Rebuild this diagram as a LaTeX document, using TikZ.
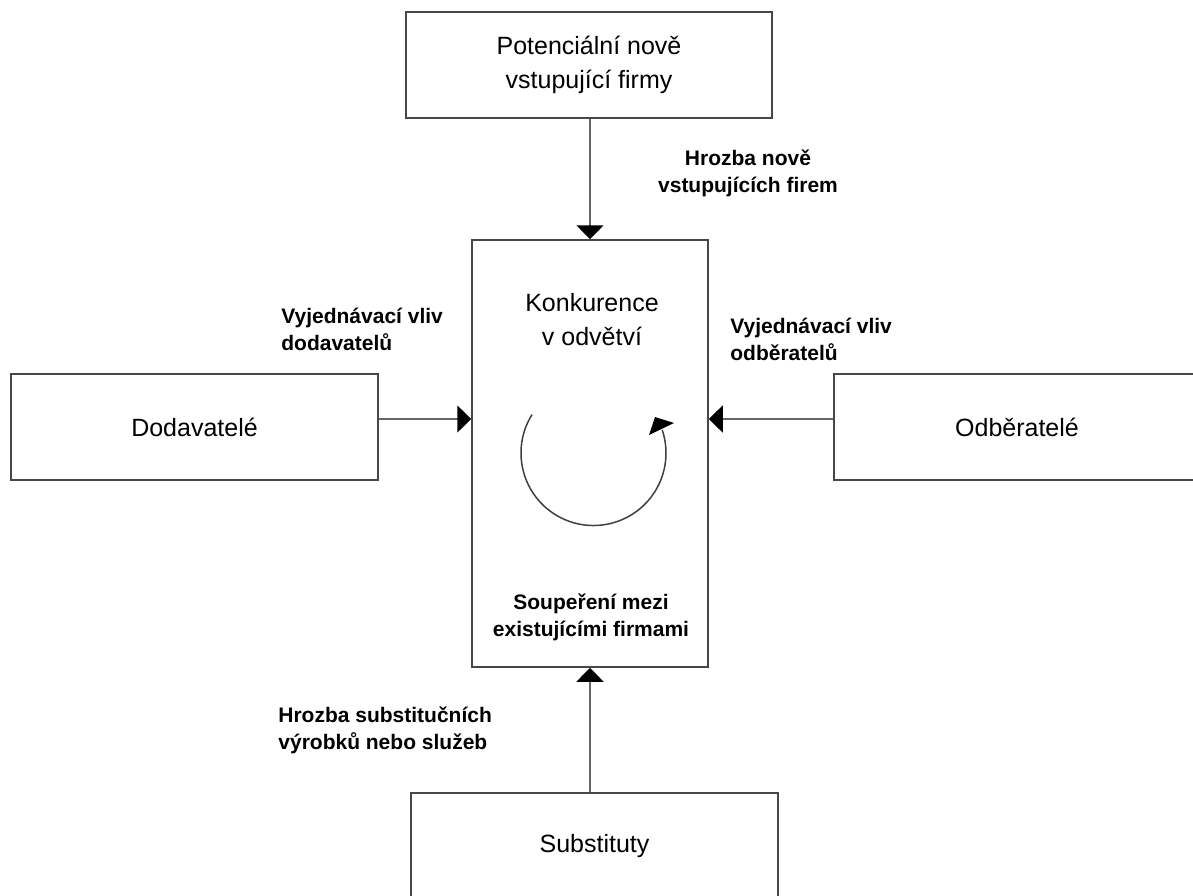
\documentclass[tikz,border=0pt]{standalone}
\usepackage{fontspec}
\setmainfont{Liberation Sans}
\usetikzlibrary{arrows.meta}
\begin{document}
\begin{tikzpicture}[x=0.5pt,y=-0.5pt,
  box/.style={draw=black!72, line width=0.75pt, fill=white, inner sep=0pt,
    align=center, font=\fontsize{12.5}{17}\selectfont},
  conn/.style={draw=black!60, line width=0.75pt,
    -{Triangle[length=7pt,width=13.5pt,fill=black,color=black]}},
  lbl/.style={inner sep=0pt, font=\fontsize{10.5}{13.5}\selectfont\bfseries},
  big/.style={inner sep=0pt, align=center, font=\fontsize{12.5}{17}\selectfont}]
\useasboundingbox (0,0) rectangle (1193,895);
\clip (0,0) rectangle (1193,895);
% boxes
\node[box, minimum width=183pt, minimum height=53pt] (top) at (589,65) {Potenciální nově\\vstupující firmy};
\node[box, minimum width=118pt, minimum height=213.5pt] (central) at (590,453.5) {};
\node[box, minimum width=183.5pt, minimum height=53pt] (left) at (194.5,427) {Dodavatelé};
\node[box, minimum width=183pt, minimum height=53pt] (right) at (1017,427) {Odběratelé};
\node[box, minimum width=183.5pt, minimum height=53pt] (bottom) at (594.5,846) {Substituty};
% connectors
\coordinate (ly) at (0,419);
\draw[conn] (top.south -| central.north) -- (central.north);
\draw[conn] (left.east |- ly) -- (central.west |- ly);
\draw[conn] (right.west |- ly) -- (central.east |- ly);
\draw[conn] (bottom.north -| central.south) -- (central.south);
% cycle arrow
\coordinate (cc) at (593.5,453);
\draw[draw=black!75, line width=0.75pt] (cc) ++(212:72.5) arc[start angle=212, end angle=-18.6, radius=72.5];
\fill[black] (674,423) -- (655,417) -- (649,435) -- cycle;
% texts
\node[big, anchor=base] (konk) at (592,345) {Konkurence\\v odvětví};
\node[lbl, align=center, anchor=base] (lt) at (748,192) {Hrozba nově\\vstupujících firem};
\node[lbl, align=left, anchor=base west] (ll) at (281,350) {Vyjednávací vliv\\dodavatelů};
\node[lbl, align=left, anchor=base west] (lr) at (730,360) {Vyjednávací vliv\\odběratelů};
\node[lbl, align=center, anchor=base] (lc) at (591,636) {Soupeření mezi\\existujícími firmami};
\node[lbl, align=left, anchor=base west] (lb) at (278,749) {Hrozba substitučních\\výrobků nebo služeb};
\end{tikzpicture}
\end{document}
